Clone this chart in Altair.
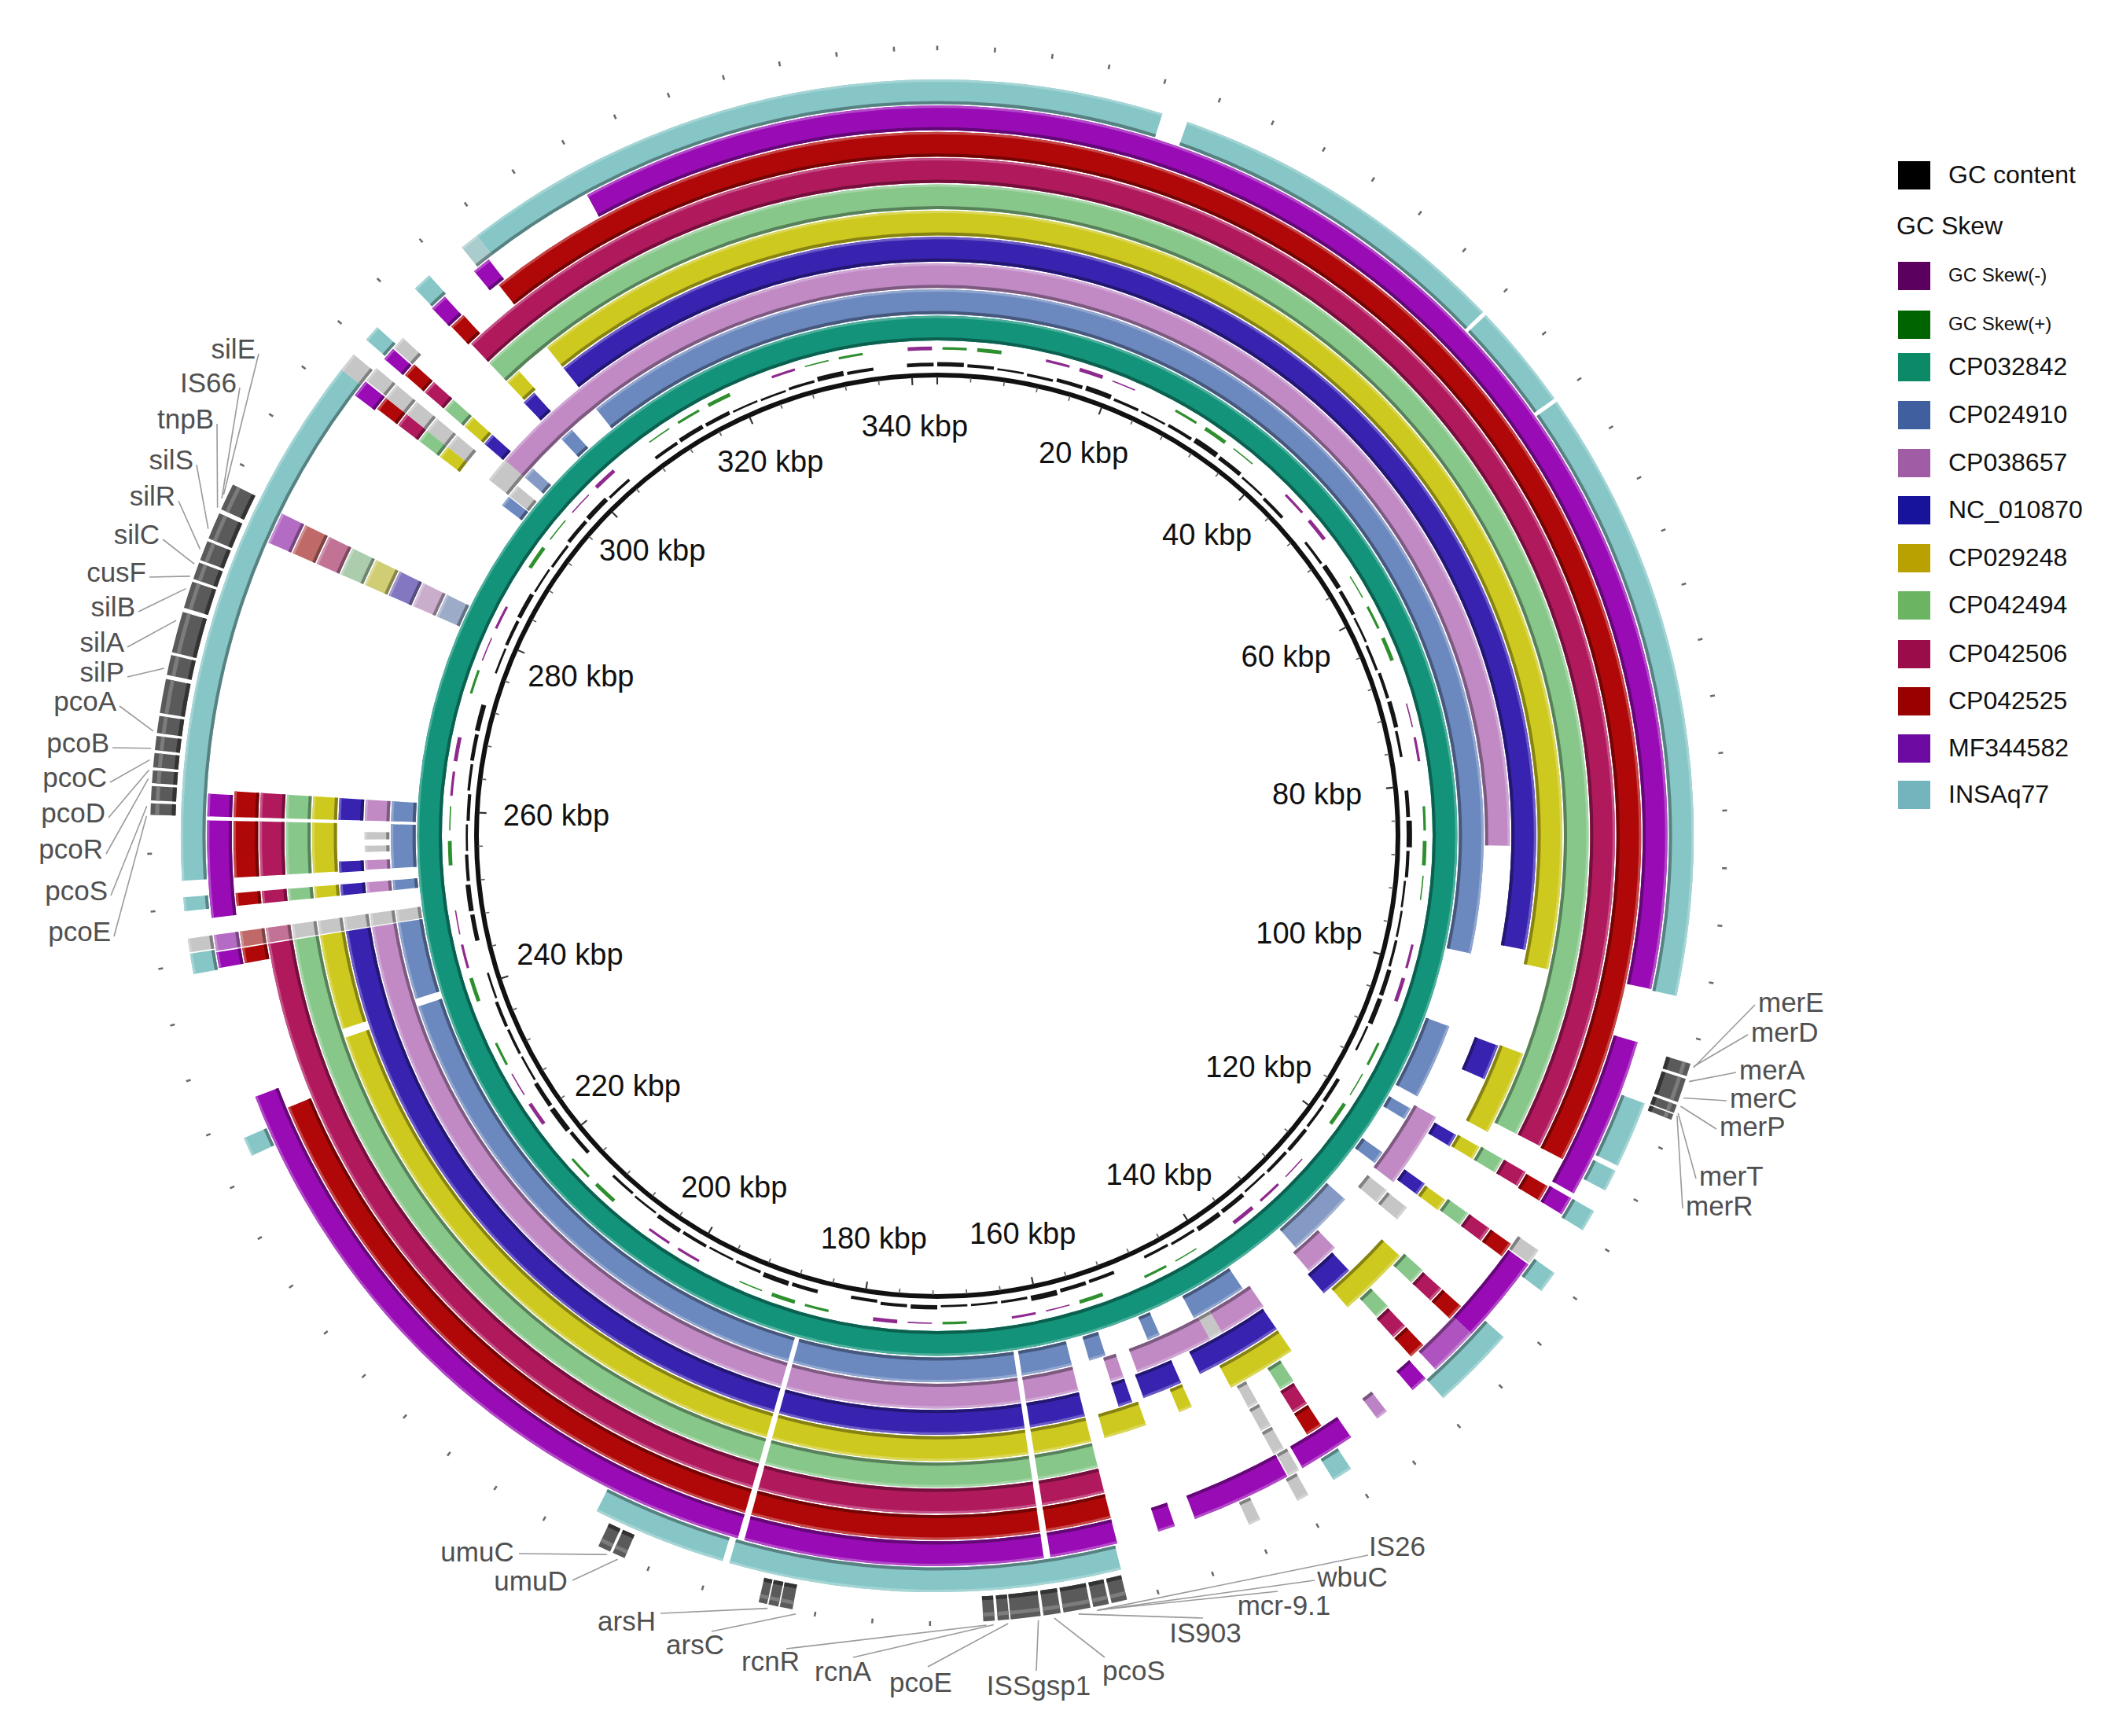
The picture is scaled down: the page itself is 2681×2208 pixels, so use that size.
import altair as alt
import numpy as np
import pandas as pd

GENOME_KBP = 343.0

TRACKS = ["CP032842", "CP024910", "CP038657", "NC_010870", "CP029248",
          "CP042494", "CP042506", "CP042525", "MF344582", "INSAq77"]

# BLAST hit blocks per track: (start kbp, end kbp, identity %)
CP032842_HITS = [(0.0, 343.0, 100)]
CP024910_HITS = [
    (306.2, 343.0, 100), (0.0, 97.6, 100),
    (105.2, 112.9, 100), (114.3, 115.5, 100), (119.5, 120.8, 100), (125.5, 132.4, 90),
    (139.1, 144.8, 100), (148.6, 149.9, 100), (154.4, 156.1, 100),
    (157.9, 163.0, 100), (163.5, 186.1, 100), (186.6, 239.9, 100), (240.7, 248.5, 100),
    (248.6, 249.8, 70),
    (251.8, 252.8, 100), (254.0, 258.4, 100), (258.7, 260.7, 100),
    (279.8, 282.2, 80),
    (292.7, 293.8, 100), (293.9, 295.2, 70), (296.3, 297.5, 90), (301.6, 303.0, 100)]
CP038657_HITS = [
    (293.9, 296.3, 70), (296.3, 343.0, 100), (0.0, 86.7, 100),
    (113.8, 121.2, 100), (122.2, 123.7, 70), (129.6, 132.9, 100),
    (138.4, 143.1, 100), (143.1, 144.4, 70), (144.4, 152.0, 100), (153.4, 154.7, 100),
    (157.9, 163.0, 100), (163.5, 186.1, 100), (186.6, 248.5, 100),
    (248.6, 249.8, 70),
    (251.8, 252.8, 100), (254.0, 254.9, 100), (255.7, 256.3, 70), (256.9, 257.6, 70),
    (258.7, 260.7, 100),
    (279.8, 282.2, 80)]
NC_010870_HITS = [
    (306.2, 343.0, 100), (0.0, 96.2, 100),
    (105.3, 108.6, 100), (114.3, 115.5, 100), (119.6, 120.8, 100), (122.3, 123.7, 70),
    (130.1, 133.2, 100), (138.6, 146.7, 100), (148.6, 152.3, 100), (153.4, 154.7, 100),
    (157.9, 163.0, 100), (163.5, 186.1, 100), (186.6, 248.5, 100),
    (248.6, 249.8, 70),
    (251.8, 252.8, 100), (253.9, 254.9, 100), (258.7, 260.7, 100),
    (279.8, 282.2, 80),
    (296.2, 297.3, 100), (301.4, 302.7, 100)]
CP029248_HITS = [
    (306.2, 343.0, 100), (0.0, 97.5, 100),
    (105.2, 112.7, 100), (114.2, 115.4, 100), (119.7, 120.8, 100),
    (126.0, 132.4, 100), (138.6, 144.8, 100), (148.6, 149.8, 100), (152.9, 156.7, 100),
    (157.9, 163.0, 100), (163.5, 186.1, 100), (186.6, 239.3, 100), (240.1, 248.5, 100),
    (248.6, 249.8, 70),
    (251.8, 252.8, 100), (254.0, 258.4, 100), (258.7, 260.7, 100),
    (279.8, 282.2, 80),
    (292.8, 293.9, 100), (293.9, 295.2, 70), (296.2, 297.3, 100), (301.6, 303.0, 100)]
CP042494_HITS = [
    (301.6, 343.0, 100), (0.0, 111.7, 100),
    (114.1, 115.4, 100), (119.5, 120.7, 100), (125.6, 127.0, 100), (129.8, 131.1, 100),
    (139.9, 141.2, 100), (143.4, 144.3, 70),
    (157.9, 163.0, 100), (163.5, 186.1, 100), (186.6, 248.5, 100),
    (248.6, 249.8, 70),
    (251.8, 252.8, 100), (254.0, 258.4, 100), (258.7, 260.7, 100),
    (279.8, 282.2, 80),
    (292.8, 293.9, 100), (293.9, 295.2, 70), (296.2, 297.3, 100)]
CP042506_HITS = [
    (301.6, 343.0, 100), (0.0, 111.7, 100),
    (114.1, 115.4, 100), (119.5, 120.7, 100), (125.7, 127.0, 100), (129.9, 131.2, 100),
    (140.0, 141.3, 100), (143.4, 144.3, 70),
    (157.9, 163.0, 100), (163.5, 186.1, 100), (186.6, 248.5, 100),
    (248.6, 249.8, 80),
    (251.8, 252.8, 100), (254.0, 258.4, 100), (258.7, 260.7, 100),
    (279.8, 282.2, 80),
    (292.8, 293.9, 100), (293.9, 295.2, 70), (296.2, 297.3, 100)]
CP042525_HITS = [
    (306.3, 343.0, 100), (0.0, 111.8, 100),
    (114.2, 115.5, 100), (119.5, 120.7, 100), (125.7, 127.0, 100), (129.9, 131.2, 100),
    (140.0, 141.3, 100), (143.4, 144.3, 70),
    (157.9, 163.0, 100), (163.5, 186.1, 100), (186.6, 235.6, 100),
    (247.3, 248.5, 100), (248.6, 249.8, 80),
    (251.8, 252.8, 100), (254.0, 258.4, 100), (258.7, 260.7, 100),
    (279.8, 282.2, 80),
    (292.8, 293.9, 100), (293.9, 295.2, 70), (296.2, 297.3, 100), (301.4, 302.7, 100)]
MF344582_HITS = [
    (315.7, 343.0, 100), (0.0, 97.3, 100),
    (101.4, 113.7, 100), (114.1, 115.5, 100), (118.7, 119.9, 70), (120.0, 126.7, 100),
    (126.7, 130.5, 85), (131.5, 132.8, 100), (135.3, 136.2, 75), (138.6, 142.9, 100),
    (143.2, 144.1, 70), (144.2, 151.8, 100), (153.4, 154.7, 100),
    (157.9, 163.0, 100), (163.5, 186.1, 100), (186.6, 237.3, 100),
    (247.3, 248.5, 100), (248.6, 249.8, 80),
    (251.1, 258.4, 100), (258.7, 260.4, 100),
    (279.8, 282.2, 80),
    (292.6, 293.9, 100), (294.0, 295.2, 70), (296.1, 297.1, 100), (297.2, 298.2, 70),
    (301.3, 302.6, 100), (305.5, 306.9, 100)]
INSAq77_HITS = [
    (305.9, 307.3, 80), (307.3, 343.0, 100), (0.0, 16.5, 100), (18.4, 44.0, 100),
    (44.3, 52.1, 100), (52.4, 97.4, 100),
    (105.5, 110.4, 100), (110.8, 112.4, 100), (114.1, 115.7, 100), (119.4, 121.0, 100),
    (125.3, 131.5, 100), (139.9, 141.4, 100), (143.5, 144.4, 70), (147.4, 148.3, 70),
    (158.1, 186.7, 100), (187.2, 197.0, 100),
    (233.4, 234.8, 100), (247.2, 248.7, 100), (248.8, 249.8, 70), (251.8, 252.8, 100),
    (254.0, 293.5, 100), (293.5, 294.9, 70), (296.3, 297.5, 100), (301.4, 302.8, 100)]

HITS = [CP032842_HITS, CP024910_HITS, CP038657_HITS, NC_010870_HITS, CP029248_HITS,
        CP042494_HITS, CP042506_HITS, CP042525_HITS, MF344582_HITS, INSAq77_HITS]

# GC content deviation and GC skew per window (windows spread evenly round the plasmid)
GC_CONTENT = [5, 3, 1, -2, 4, 6, 2, 1, 3, 7, 5, 1, -3, 0, 2, 6, 4, 1, -2, 3,
              5, 2, 0, 4, 7, 3, -1, 1, 2, 5, 6, 1, 0, -4, 2, 4, 3, 1, 5, 6,
              2, -2, 0, 3, 4, 7, 2, 1, 1, 5, 3, -3, 0, 4, 6, 2, 1, 3, 5, 1,
              -2, 0, 4, 7, 5, 1, 2, 3, -1, 0, 5, 6, 3, 1, -3, 2, 4, 6, 0, 1,
              3, 5, 1, -2, 4, 6, 2, 0, 3, 5, 4, 1, -1, 2, 6, 3, 0, 4]
GC_SKEW = [2, 3, 0, -2, -3, -1, 0, 2, 3, 1, 0, -2, -3, 0, 1, 2, 3, 0, -1, -2,
           0, 2, 3, 1, 0, -2, -3, 0, 2, 1, 3, 0, -1, -2, -3, 0, 1, 2, 0, 3,
           -1, -2, 0, 2, -1, -3, 0, 2, 3, 1, 0, -2, -2, 0, 3, 2, 0, -3, -1, 2,
           0, 3, -2, -1, 0, 3, 1, -2, -3, 0, 2, -1, -2, 0, 3, 1, -1, -3, 0, 1,
           2, 3, 0, -2, 1, 2, 0, -3]

# annotated genes (kbp)
GENE_START = [280.6, 278.4, 276.8, 275.4, 273.3, 270.1, 268.5, 265.8, 264.4, 263.2,
              262.0, 260.9, 259.7, 258.7,
              101.8, 102.9, 104.8, 105.5,
              193.8, 194.9,
              181.6, 182.6, 183.4,
              158.2, 159.5, 160.8, 162.9, 164.3, 166.5, 167.5]
GENE_END = [282.5, 280.3, 278.2, 276.6, 275.2, 273.0, 269.9, 268.2, 265.6, 264.2,
            263.0, 261.8, 260.7, 259.5,
            102.7, 104.6, 105.4, 105.9,
            194.7, 195.8,
            182.5, 183.3, 184.0,
            159.3, 160.6, 162.7, 164.1, 166.4, 167.3, 168.3]

LEFT_GENES = ["silE", "IS66", "tnpB", "silS", "silR", "silC", "cusF", "silB", "silA",
              "silP", "pcoA", "pcoB", "pcoC", "pcoD", "pcoR", "pcoS", "pcoE"]
LEFT_GENE_KBP = [281.6, 281.3, 280.6, 279.0, 277.5, 276.4, 275.5, 274.6, 272.3,
                 268.9, 264.5, 263.3, 262.5, 261.8, 261.2, 259.3, 258.6]
RIGHT_GENES = ["merE", "merD", "merA", "merC", "merP", "merT", "merR"]
RIGHT_GENE_KBP = [102.0, 101.9, 103.0, 104.2, 104.8, 105.3, 105.5]
BOTTOM_GENES = ["umuC", "umuD", "arsH", "arsC", "rcnR", "rcnA", "pcoE", "ISSgsp1",
                "pcoS", "IS903", "mcr-9.1", "wbuC", "IS26"]
BOTTOM_GENE_KBP = [195.0, 194.2, 183.3, 181.3, 168.1, 167.6, 166.6, 164.5,
                   163.4, 161.7, 160.2, 160.4, 160.3]

TICK_KBP = list(range(20, 341, 20))
MINOR_TICK_STEP = 4

LEGEND_NAMES = ["GC content", "GC Skew(-)", "GC Skew(+)"] + TRACKS
LEGEND_COLORS = ["#000000", "#5c0060", "#006400", "#0c8a68", "#3f5f9f", "#a05ca5",
                 "#17139b", "#b8a100", "#6ab462", "#9b0c4b", "#990000", "#6c0aa1", "#73b4bd"]

# ---------------------------------------------------------------- layout / style
W, H = 2665, 2192
CXP, CYP = 1192.0, 1063.0           # circle centre in page pixels
RING_COLORS = ["#12937a", "#6b88bf", "#c18ac5", "#3823b0", "#cec91f",
               "#87c78a", "#b1195d", "#b00808", "#990cb5", "#87c6c7"]


def hx(c):
    c = c.lstrip("#")
    return np.array([int(c[i:i + 2], 16) for i in (0, 2, 4)], dtype=float)


def mix(c1, c2, t):
    v = hx(c1) * (1 - t) + hx(c2) * t
    return "#" + "".join(f"{int(round(x)):02x}" for x in v)


def ident_color(base, ident):
    if ident <= 72:
        return "#c6c6c6"
    t = min(0.65, (100 - ident) / 100 * 2.4)
    return mix(base, "#d2d2d2", t)


def px(xp, yp):
    return xp - CXP, CYP - yp


def polar(kbp, r):
    a = kbp / GENOME_KBP * 2 * np.pi
    return r * np.sin(a), r * np.cos(a)


arcs = []


def add_arc(t0, t1, r0, r1, col):
    if t1 > t0:
        arcs.append(dict(t0=t0, t1=t1, r0=r0, r1=r1, col=col, cx=0.0, cy=0.0))


# ruler circle and ticks
add_arc(0, GENOME_KBP, 583, 589, "#111111")
for k in range(0, int(GENOME_KBP), MINOR_TICK_STEP):
    if k % 20 == 0:
        add_arc(k - 0.1, k + 0.1, 574, 584, "#333333")
    else:
        add_arc(k - 0.08, k + 0.08, 578, 584, "#666666")

# GC content
n = len(GC_CONTENT)
w = GENOME_KBP / n
for i, v in enumerate(GC_CONTENT):
    if v == 0:
        continue
    r0 = 598 - (abs(v) * 0.7 if v < 0 else 0) - 1
    r1 = 598 + (v * 0.7 if v > 0 else 0) + 1
    add_arc(i * w, (i + 1) * w - 0.12 * w, r0, r1, "#151515")

# GC skew
n = len(GC_SKEW)
w = GENOME_KBP / n
for i, v in enumerate(GC_SKEW):
    if v == 0:
        continue
    col = "#2e8f2e" if v > 0 else "#8e2a8e"
    add_arc(i * w + 0.15 * w, (i + 1) * w - 0.15 * w, 620 - abs(v) * 0.8, 620 + abs(v) * 0.8, col)

# BLAST rings
for k, hits in enumerate(HITS):
    r_in = 630 + 33.4 * k
    r_out = r_in + 31.5
    base = RING_COLORS[k]
    for (s, e, ident) in hits:
        c = ident_color(base, ident)
        add_arc(s, e, r_in, r_out, c)
        add_arc(s, e, r_in, r_in + 4, mix(c, "#000000", 0.35))
        add_arc(s, e, r_out - 3, r_out, mix(c, "#ffffff", 0.25))

# genes
for s, e in zip(GENE_START, GENE_END):
    add_arc(s, e, 969, 1001, "#5a5a5a")
    add_arc(s, e, 969, 974, "#333333")
    add_arc(s, e, 990, 995, "#7c7c7c")

# outer ruler dots
for k in range(0, int(GENOME_KBP), MINOR_TICK_STEP):
    if any(s - 1 <= k <= e + 1 for s, e in zip(GENE_START, GENE_END)):
        continue
    add_arc(k - 0.07, k + 0.07, 999, 1005, "#6a6a6a")

arc_df = pd.DataFrame(arcs)

xs = alt.Scale(domain=[8 - CXP, 8 - CXP + W], range=[0, W], nice=False, zero=False)
ys = alt.Scale(domain=[CYP - 8, CYP - 8 - H], range=[0, H], nice=False, zero=False)
ts = alt.Scale(domain=[0, GENOME_KBP], range=[0, 2 * np.pi], nice=False, zero=False)
rs = alt.Scale(type="linear", domain=[0, 1100], range=[0, 1100], nice=False)

ring_layer = alt.Chart(arc_df).mark_arc(strokeWidth=0).encode(
    x=alt.X("cx:Q", scale=xs, axis=None),
    y=alt.Y("cy:Q", scale=ys, axis=None),
    theta=alt.Theta("t0:Q", scale=ts, stack=None),
    theta2="t1:Q",
    radius=alt.Radius("r1:Q", scale=rs),
    radius2="r0:Q",
    color=alt.Color("col:N", scale=None),
)

# tick labels
tl = []
for v in TICK_KBP:
    a = v / GENOME_KBP * 2 * np.pi
    rc = 520 - 35 * np.sin(a) ** 4
    x, y = polar(v, rc)
    tl.append(dict(x=x, y=y, label=f"{v} kbp"))
tick_text = alt.Chart(pd.DataFrame(tl)).mark_text(
    font="Liberation Sans", fontSize=38, color="#111111", align="center", baseline="middle"
).encode(x=alt.X("x:Q", scale=xs), y=alt.Y("y:Q", scale=ys), text="label:N")

# gene label layout (page pixels of text anchor and of leader-line start)
LEFT_TEXT_AT = [(325, 445), (301, 488), (272, 534), (246, 586), (223, 632), (203, 681),
                (186, 729), (172, 773), (158, 818), (158, 856), (148, 893), (139, 946),
                (136, 990), (134, 1035), (131, 1081), (137, 1134), (141, 1186)]
RIGHT_TEXT_AT = [(2236, 1276), (2227, 1314), (2212, 1362), (2200, 1398), (2187, 1434),
                 (2161, 1497), (2144, 1535)]
BOTTOM_TEXT_AT = [(607, 1975), (675, 2012), (797, 2063), (884, 2093), (980, 2114),
                  (1072, 2127), (1171, 2141), (1321, 2145), (1442, 2126), (1533, 2078),
                  (1633, 2043), (1720, 2007), (1777, 1968)]
BOTTOM_LINE_AT = [(660, 1976), (728, 2010), (840, 2052), (905, 2075), (1000, 2097),
                  (1085, 2108), (1180, 2120), (1318, 2125), (1405, 2108), (1530, 2058),
                  (1625, 2024), (1672, 2010), (1740, 1978)]

lines = []
labs_l, labs_r, labs_b = [], [], []
for name, kbp, (tx, ty) in zip(LEFT_GENES, LEFT_GENE_KBP, LEFT_TEXT_AT):
    gx, gy = polar(kbp, 1006)
    lx, ly = px(tx + 4, ty + 5)
    lines.append(dict(x=lx, y=ly, x2=gx, y2=gy))
    x, y = px(tx, ty)
    labs_l.append(dict(x=x, y=y, label=name))
for name, kbp, (tx, ty) in zip(RIGHT_GENES, RIGHT_GENE_KBP, RIGHT_TEXT_AT):
    gx, gy = polar(kbp, 1006)
    lx, ly = px(tx - 4, ty + 2)
    lines.append(dict(x=lx, y=ly, x2=gx, y2=gy))
    x, y = px(tx, ty)
    labs_r.append(dict(x=x, y=y, label=name))
for name, kbp, (tx, ty), (lx0, ly0) in zip(BOTTOM_GENES, BOTTOM_GENE_KBP, BOTTOM_TEXT_AT, BOTTOM_LINE_AT):
    gx, gy = polar(kbp, 1006)
    lx, ly = px(lx0, ly0)
    lines.append(dict(x=lx, y=ly, x2=gx, y2=gy))
    x, y = px(tx, ty)
    labs_b.append(dict(x=x, y=y, label=name))

leader = alt.Chart(pd.DataFrame(lines)).mark_rule(color="#9a9a9a", strokeWidth=1.6).encode(
    x=alt.X("x:Q", scale=xs), y=alt.Y("y:Q", scale=ys), x2="x2:Q", y2="y2:Q")

gtxt = dict(font="Liberation Sans", fontSize=35, color="#505050", baseline="middle")
lab_left = alt.Chart(pd.DataFrame(labs_l)).mark_text(align="right", **gtxt).encode(
    x=alt.X("x:Q", scale=xs), y=alt.Y("y:Q", scale=ys), text="label:N")
lab_right = alt.Chart(pd.DataFrame(labs_r)).mark_text(align="left", **gtxt).encode(
    x=alt.X("x:Q", scale=xs), y=alt.Y("y:Q", scale=ys), text="label:N")
lab_bottom = alt.Chart(pd.DataFrame(labs_b)).mark_text(align="center", **gtxt).encode(
    x=alt.X("x:Q", scale=xs), y=alt.Y("y:Q", scale=ys), text="label:N")

# legend
LEG_ROW_Y = [223, 351, 413, 467, 528, 589, 649, 710, 770, 832, 892, 952, 1011]
leg_sq, leg_tx = [], []
for name, col, yy in zip(LEGEND_NAMES, LEGEND_COLORS, LEG_ROW_Y):
    x0, y0 = px(2414, yy - 18)
    x1, y1 = px(2455, yy + 18)
    leg_sq.append(dict(x=x0, x2=x1, y=y0, y2=y1, col=col))
    tx, ty = px(2478, yy)
    leg_tx.append(dict(x=tx, y=ty, label=name, size=24 if "Skew" in name else 32))
hx0, hy0 = px(2412, 288)
leg_tx.append(dict(x=hx0, y=hy0, label="GC Skew", size=32))

leg_rect = alt.Chart(pd.DataFrame(leg_sq)).mark_rect().encode(
    x=alt.X("x:Q", scale=xs), x2="x2:Q", y=alt.Y("y:Q", scale=ys), y2="y2:Q",
    color=alt.Color("col:N", scale=None))
leg_text = alt.Chart(pd.DataFrame(leg_tx)).mark_text(
    font="Liberation Sans", color="#111111", align="left", baseline="middle"
).encode(x=alt.X("x:Q", scale=xs), y=alt.Y("y:Q", scale=ys), text="label:N",
         size=alt.Size("size:Q", scale=None))

chart = alt.layer(
    ring_layer, leader, tick_text, lab_left, lab_right, lab_bottom, leg_rect, leg_text
).properties(
    width=W, height=H, padding=0, autosize=alt.AutoSizeParams(type="none"),
    background="white"
).configure_view(stroke=None)

chart.save("out.html", embed_options={"renderer": "svg", "actions": False})
